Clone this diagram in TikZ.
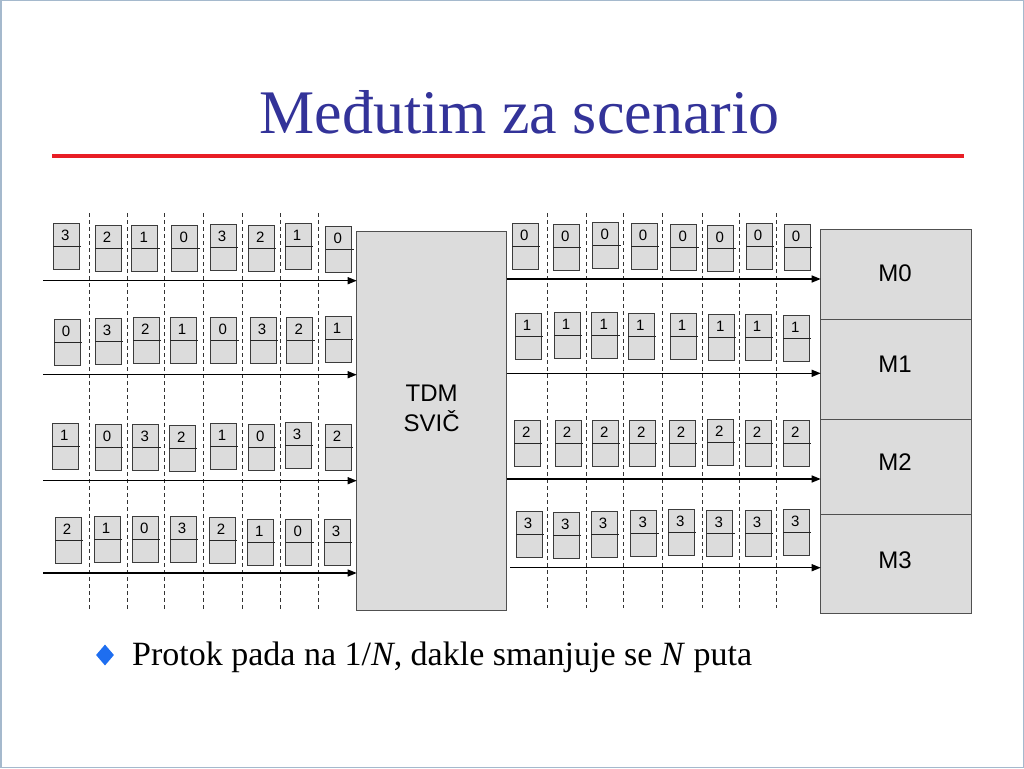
\documentclass[tikz,border=0pt]{standalone}
\usepackage{fontspec}
\setmainfont{Liberation Serif}
\setsansfont{Liberation Sans}
\usetikzlibrary{arrows.meta,shapes.geometric}
\definecolor{titleblue}{RGB}{51,51,153}
\definecolor{rulered}{RGB}{232,30,37}
\definecolor{bulletblue}{RGB}{30,110,240}
\definecolor{framecol}{RGB}{165,185,205}
\definecolor{cellfill}{RGB}{220,220,220}
\definecolor{cellline}{RGB}{60,60,60}
\definecolor{boxline}{RGB}{80,80,80}
\begin{document}
\begin{tikzpicture}[x=1pt,y=-1pt,
  cellbox/.style={draw=cellline,fill=cellfill,line width=1pt,minimum width=26pt,minimum height=46pt,inner sep=0pt,outer sep=0pt},
  divline/.style={draw=black!85,line width=1pt},
  numlbl/.style={font=\sffamily\fontsize{15}{15}\selectfont,inner sep=0pt},
  bigbox/.style={draw=boxline,fill=cellfill,line width=1.2pt,inner sep=0pt,outer sep=0pt,anchor=north west},
  boxlbl/.style={font=\sffamily\fontsize{24}{30}\selectfont,align=center,inner sep=0pt},
  arr/.style={line width=1.3pt,-{Triangle[length=9pt,width=7pt]}},
  slot/.style={draw=black!80,line width=1pt,dash pattern=on 4pt off 3pt}]
\fill[white] (0,0) rectangle (1024,768);
\useasboundingbox (0,0) rectangle (1024,768);
\draw[framecol,line width=1.5pt] (0.75,0.75) rectangle (1023.25,767.25);
% title
\node[anchor=base,text=titleblue,font=\fontsize{62}{62}\selectfont,inner sep=0pt] (title) at (519.5,133) {Međutim za scenario};
\draw[rulered,line width=3.5pt] (52,156) -- (964,156);
% bullet
\node[diamond,fill=bulletblue,minimum width=18pt,minimum height=21pt,inner sep=0pt] (bul) at (105,655) {};
\node[anchor=base west,font=\fontsize{34}{34}\selectfont,inner sep=0pt] (btext) at (132,665) {Protok pada na 1/\textit{N}, dakle smanjuje se \textit{N} puta};
% dashed slot lines
\foreach \x [count=\i] in {89,127.3,164.7,203.3,242.7,280,318.3}{
  \coordinate (lt\i) at (\x,213); \coordinate (lb\i) at (\x,610);
  \draw[slot] (lt\i) -- (lb\i);}
\foreach \x [count=\i] in {547.7,586,623.3,662.3,702.3,739.3,776.7}{
  \coordinate (rt\i) at (\x,213); \coordinate (rb\i) at (\x,608);
  \draw[slot] (rt\i) -- (rb\i);}
% TDM switch
\node[bigbox,minimum width=150pt,minimum height=379pt] (tdm) at (356.7,231.7) {};
\node[boxlbl] (tdmlbl) at (431.7,408) {TDM\\SVIČ};
% memory boxes
\node[bigbox,minimum width=151pt,minimum height=90pt] (m0) at (820.7,229.3) {};
\node[bigbox,minimum width=151pt,minimum height=100pt] (m1) at (820.7,319.3) {};
\node[bigbox,minimum width=151pt,minimum height=95.4pt] (m2) at (820.7,419.3) {};
\node[bigbox,minimum width=151pt,minimum height=98.6pt] (m3) at (820.7,514.7) {};
\node[boxlbl] (m0l) at (895,273.3) {M0};
\node[boxlbl] (m1l) at (895,364) {M1};
\node[boxlbl] (m2l) at (895,462.3) {M2};
\node[boxlbl] (m3l) at (895,560) {M3};
% cells
\newcommand{\mkcell}[4]{%
  \node[cellbox] (#1) at (#2+13,#3+23) {};
  \draw[divline] (#1.west) -- ([xshift=2pt]#1.east);
  \node[numlbl] (#1n) at ([xshift=-1pt,yshift=11pt]#1.center) {#4};}
\foreach \x/\t/\l [count=\i] in {53.3/223.3/3,95/225/2,131.7/225/1,171.7/225.7/0,210/224/3,248.3/225/2,285/223.3/1,325.7/226/0}
  {\mkcell{a\i}{\x}{\t}{\l}}
\foreach \x/\t/\l [count=\i] in {54/319.3/0,95/318.3/3,133.3/317.3/2,170/317.3/1,210.7/317.3/0,250/317.3/3,286.7/317.3/2,325/316.7/1}
  {\mkcell{b\i}{\x}{\t}{\l}}
\foreach \x/\t/\l [count=\i] in {52.3/423.3/1,95/424.3/0,132.7/424.3/3,169.3/425/2,210/423.3/1,248.3/424.3/0,285/422.7/3,325/424/2}
  {\mkcell{c\i}{\x}{\t}{\l}}
\foreach \x/\t/\l [count=\i] in {55/517.7/2,94/516.7/1,132.3/516.7/0,170/516/3,209/517.7/2,247.3/519/1,285.7/519/0,324/519/3}
  {\mkcell{d\i}{\x}{\t}{\l}}
\foreach \x/\t [count=\i] in {512.3/223.3,553.3/224.3,592.7/222.3,631/223.3,670.7/224,707.7/225,746/223.3,784/224}
  {\mkcell{e\i}{\x}{\t}{0}}
\foreach \x/\t [count=\i] in {515/313.3,554/312.3,591.7/312.7,628.3/313.3,670/313.3,708.3/314.3,745/314.3,783.3/315}
  {\mkcell{f\i}{\x}{\t}{1}}
\foreach \x/\t [count=\i] in {514.3/420.7,555/420.7,592.3/420.7,629.3/420.7,669/420.7,707.3/419.3,745/420,783.3/420.7}
  {\mkcell{g\i}{\x}{\t}{2}}
\foreach \x/\t [count=\i] in {516/511,553.3/512.3,591/511,630.7/510,668.3/509,706.7/510,745/510,783.3/509}
  {\mkcell{h\i}{\x}{\t}{3}}
% input arrows
\coordinate (in1) at (43,280.7);
\coordinate (in2) at (43,374.7);
\coordinate (in3) at (43,480.7);
\coordinate (in4) at (43,573);
\draw[arr] (in1) -- (in1 -| tdm.west);
\draw[arr] (in2) -- (in2 -| tdm.west);
\draw[arr] (in3) -- (in3 -| tdm.west);
\draw[arr] (in4) -- (in4 -| tdm.west);
% output arrows
\coordinate (out1) at (506.7,279);
\coordinate (out2) at (506.7,373.3);
\coordinate (out3) at (506.7,479);
\coordinate (out4) at (510,567.7);
\draw[arr] (out1) -- (out1 -| m0.west);
\draw[arr] (out2) -- (out2 -| m1.west);
\draw[arr] (out3) -- (out3 -| m2.west);
\draw[arr] (out4) -- (out4 -| m3.west);
\end{tikzpicture}
\end{document}
